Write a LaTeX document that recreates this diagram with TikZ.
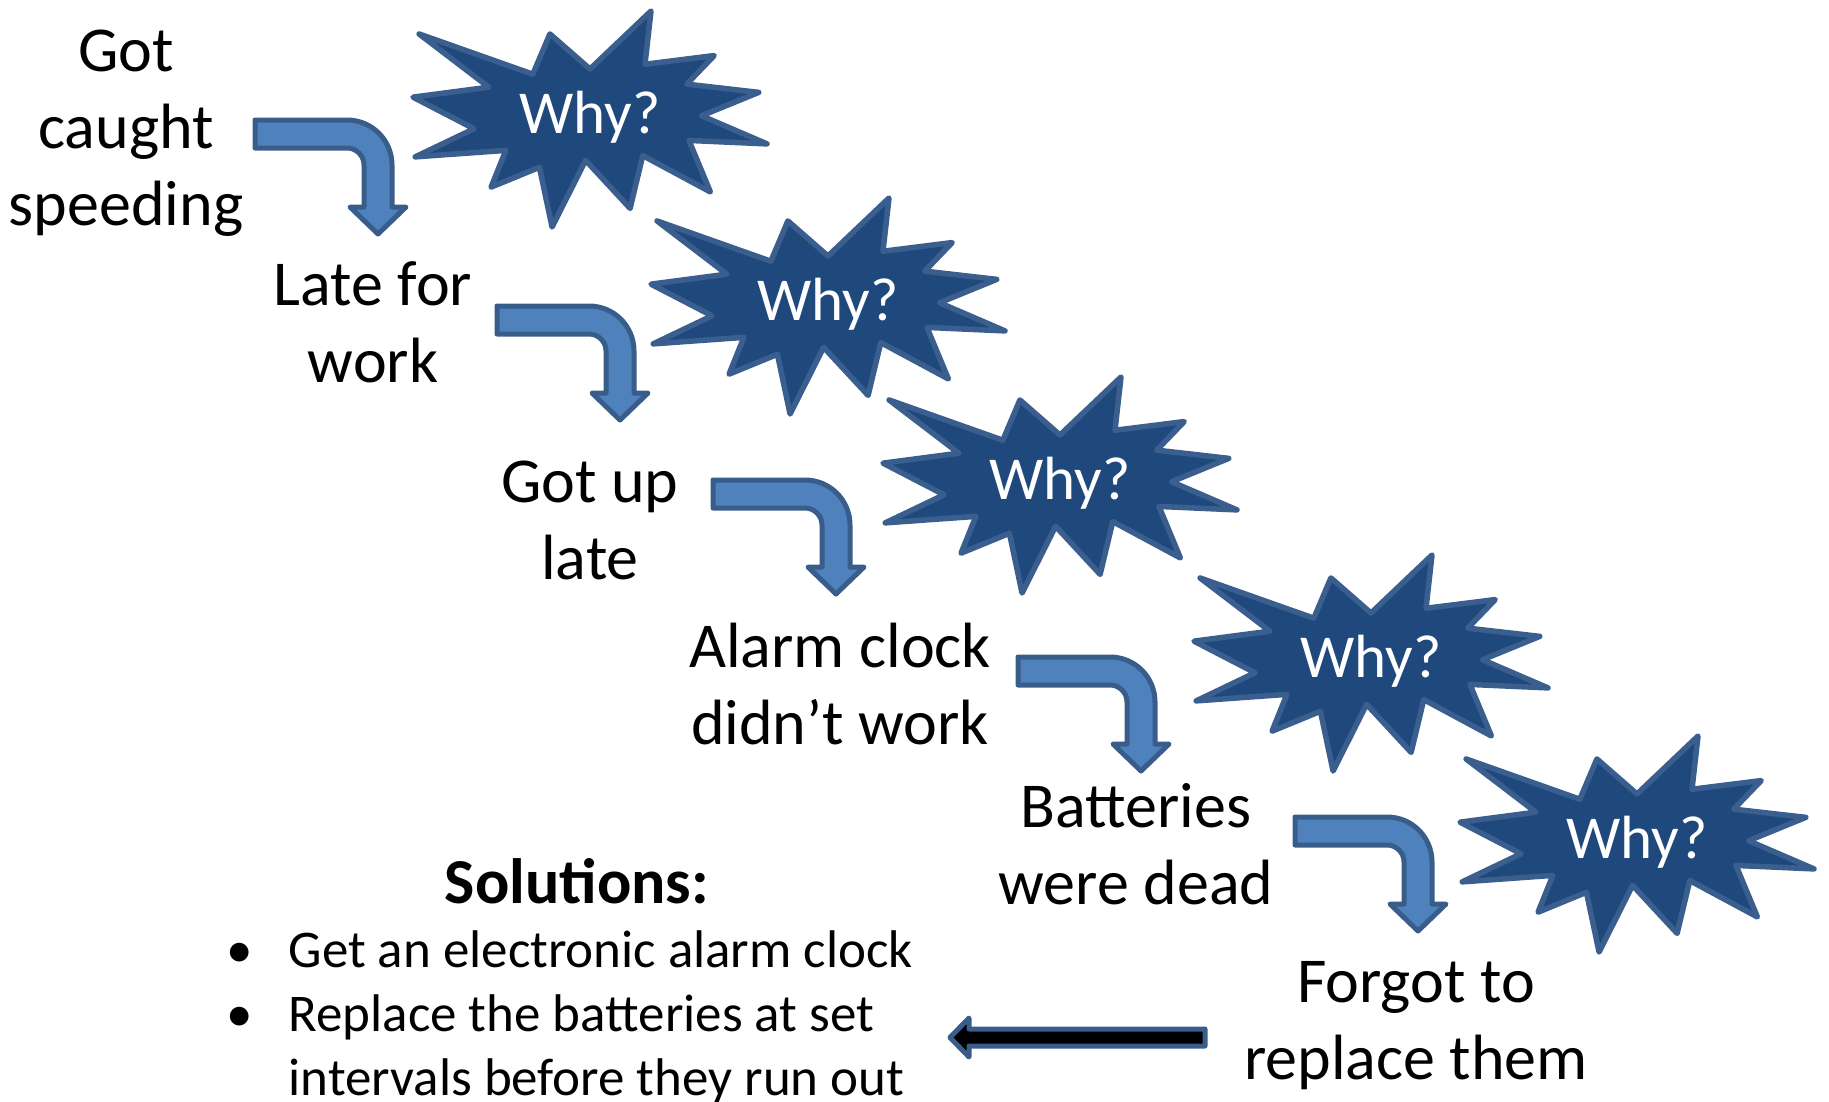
\documentclass[tikz,border=0pt]{standalone}
\usepackage{fontspec}
\setmainfont{Carlito}
\definecolor{starfill}{HTML}{1F497D}
\definecolor{starline}{HTML}{3A5F8E}
\definecolor{bendfill}{HTML}{4F81BD}
\definecolor{bendline}{HTML}{385D8A}
\tikzset{
  starshape/.style={fill=starfill, draw=starline, line width=5.5pt, line join=round},
  bendshape/.style={fill=bendfill, draw=bendline, line width=5pt, line join=round},
  backshape/.style={fill=black, draw=bendline, line width=5pt, line join=round},
  caption/.style={anchor=base, inner sep=0pt, font=\fontsize{64}{77}\selectfont},
  whytext/.style={anchor=base, inner sep=0pt, text=white, font=\fontsize{61}{73}\selectfont},
}
% explosion star, 354 x 216, top-left corner at (#2,#3)
\newcommand\whystar[3]{%
  \begin{scope}[shift={(#2,#3)}, x=1.6389pt, y=-1pt]
    \draw[starshape] (108,58) -- (145.22,0) -- (141.55,53.25) -- (183.80,44.57)
      -- (167.02,73.15) -- (210.97,81.37) -- (176.07,104.75) -- (216,132.90)
      -- (168.37,129.42) -- (181.45,180.95) -- (140.20,144.57) -- (132.47,197.37)
      -- (105.32,149.35) -- (84.85,216) -- (77.15,156.27) -- (47.62,176.17)
      -- (56.67,139.37) -- (1.35,145.87) -- (37.22,117.75) -- (0,86.15)
      -- (46.27,76.17) -- (3.70,22.95) -- (73.12,63.20) -- (83.52,22.95) -- cycle;
  \end{scope}
  \node[whytext] (#1) at (#2+177,#3+122) {Why?};
}
% bent block arrow, bar from the left turning down, top-left corner at (#1,#2)
\newcommand\bendarrow[2]{%
  \begin{scope}[shift={(#1,#2)}]
    \draw[bendshape] (0,0) -- (92,0)
      .. controls (116.9,0) and (137,20.1) .. (137,45)
      -- (137,87) -- (151,87) -- (123,114) -- (95,87) -- (109,87) -- (109,45)
      .. controls (109,35.6) and (101.4,28) .. (92,28)
      -- (0,28) -- cycle;
  \end{scope}
}
\begin{document}
\begin{tikzpicture}[x=1pt, y=-1pt]
\useasboundingbox (0,0) rectangle (1829,1101);

% the five "Why?" bursts
\whystar{why1}{413}{11}
\whystar{why2}{651}{198}
\whystar{why3}{883}{377}
\whystar{why4}{1194}{555}
\whystar{why5}{1460}{736}

% bent arrows between the causes
\bendarrow{255}{120}
\bendarrow{497}{306}
\bendarrow{713}{480}
\bendarrow{1018}{657}
\bendarrow{1295}{817}

% chain of causes
\node[caption] (c1) at (126,71) {\begin{tabular}[t]{@{}c@{}}Got\\caught\\speeding\end{tabular}};
\node[caption] (c2) at (373,305) {\begin{tabular}[t]{@{}c@{}}Late for\\work\end{tabular}};
\node[caption] (c3) at (590,502) {\begin{tabular}[t]{@{}c@{}}Got up\\late\end{tabular}};
\node[caption] (c4) at (840,667) {\begin{tabular}[t]{@{}c@{}}Alarm clock\\didn’t work\end{tabular}};
\node[caption] (c5) at (1136,827) {\begin{tabular}[t]{@{}c@{}}Batteries\\were dead\end{tabular}};
\node[caption] (c6) at (1416,1002) {\begin{tabular}[t]{@{}c@{}}Forgot to\\replace them\end{tabular}};

% solutions
\node[caption, font=\fontsize{64}{77}\selectfont\bfseries] (sol) at (577,903) {Solutions:};
\node[anchor=base west, inner sep=0pt, font=\fontsize{53}{64}\selectfont] (list) at (226,967)
  {\begin{tabular}[t]{@{}l@{\hspace{36pt}}l@{}}
   •&Get an electronic alarm clock\\
   •&Replace the batteries at set\\
    &intervals before they run out
   \end{tabular}};

% arrow from the root cause back to the solutions
\coordinate (tail) at (1205,1037.5);
\coordinate (tip) at (950,1037.5);
\draw[backshape] ([yshift=-8.5pt]tail) -- ([xshift=19pt,yshift=-8.5pt]tip)
  -- ([xshift=19pt,yshift=-19.5pt]tip) -- (tip) -- ([xshift=19pt,yshift=19.5pt]tip)
  -- ([xshift=19pt,yshift=8.5pt]tip) -- ([yshift=8.5pt]tail) -- cycle;
\end{tikzpicture}
\end{document}
